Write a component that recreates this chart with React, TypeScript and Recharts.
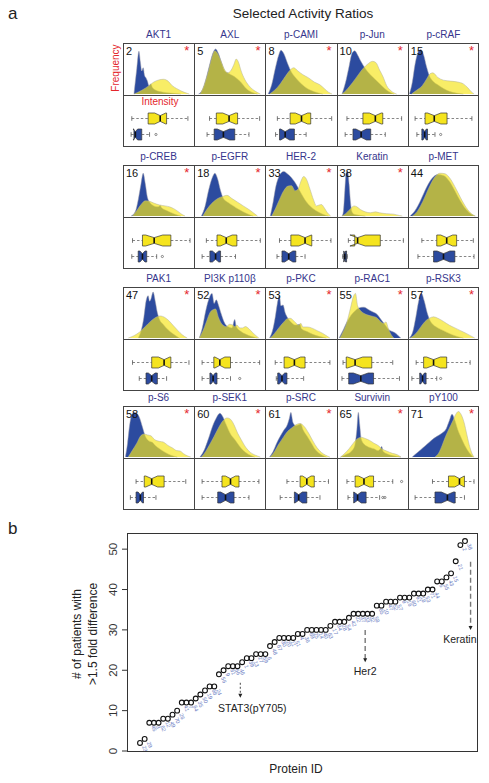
import React from 'react';
import {
  AreaChart, Area, BarChart, Bar, ScatterChart, Scatter,
  XAxis, YAxis, ReferenceLine, ReferenceDot,
} from 'recharts';

const FONT = '"Liberation Sans", Arial, sans-serif';

// ---- panel a ----
const proteins = [
  'AKT1', 'AXL', 'p-CAMI', 'p-Jun', 'p-cRAF',
  'p-CREB', 'p-EGFR', 'HER-2', 'Keratin', 'p-MET',
  'PAK1', 'PI3K p110β', 'p-PKC', 'p-RAC1', 'p-RSK3',
  'p-S6', 'p-SEK1', 'p-SRC', 'Survivin', 'pY100',
];
const proteinIds = [2, 5, 8, 10, 15, 16, 18, 33, 38, 44, 47, 52, 53, 55, 57, 58, 60, 61, 65, 71];
const significant = [1, 1, 1, 1, 1, 1, 1, 1, 1, 0, 1, 1, 1, 1, 1, 1, 1, 1, 1, 1];

// density curves as [intensity, relative frequency]
const blueDensity = [
  [[14,0],[18,55],[21,93],[23,70],[25,50],[27,57],[29,40],[31,35],[33,28],[35,18],[38,22],[40,14],[45,8],[55,4],[65,2],[80,0]],
  [[5,0],[10,8],[15,30],[20,60],[25,88],[29,98],[33,88],[37,70],[42,50],[47,45],[53,40],[58,35],[65,25],[72,12],[80,4],[88,0]],
  [[3,0],[8,20],[13,55],[18,85],[21,95],[25,88],[30,68],[35,50],[42,35],[50,22],[58,12],[68,5],[80,0]],
  [[7,0],[12,25],[17,60],[21,88],[25,94],[29,85],[34,70],[40,55],[47,42],[55,30],[63,18],[72,6],[80,0]],
  [[2,0],[6,25],[10,65],[14,90],[18,97],[22,85],[26,60],[30,40],[35,28],[42,20],[50,12],[58,6],[68,2],[78,0]],
  [[10,0],[16,10],[20,35],[24,70],[27,93],[30,70],[33,40],[37,28],[42,22],[48,20],[51,23],[53,18],[60,12],[70,5],[80,0]],
  [[9,0],[14,20],[19,55],[24,82],[28,93],[32,80],[36,55],[40,38],[46,30],[54,22],[62,14],[72,6],[82,0]],
  [[6,0],[10,30],[14,65],[19,88],[25,97],[30,92],[35,85],[40,75],[45,62],[50,48],[55,35],[62,22],[70,12],[80,4],[88,0]],
  [[7,0],[9,10],[11,55],[13,95],[15,97],[17,70],[19,30],[21,10],[24,4],[30,2],[40,0]],
  [[3,0],[10,12],[18,35],[26,62],[34,82],[42,90],[50,88],[58,76],[66,55],[74,32],[82,14],[90,3],[94,0]],
  [[20,0],[24,15],[28,45],[31,80],[34,92],[36,80],[38,85],[41,100],[44,80],[47,55],[50,40],[55,30],[62,18],[70,8],[78,0]],
  [[6,0],[10,20],[15,58],[19,82],[24,97],[27,75],[30,83],[33,72],[37,52],[41,35],[46,25],[52,22],[56,40],[58,25],[64,15],[72,8],[80,3],[88,0]],
  [[5,0],[9,15],[13,45],[16,75],[19,93],[21,70],[24,72],[27,55],[30,45],[35,35],[42,28],[48,30],[50,20],[58,14],[66,8],[76,3],[85,0]],
  [[3,0],[8,15],[14,35],[20,50],[26,60],[32,66],[38,67],[44,62],[50,57],[56,52],[62,40],[68,28],[73,18],[78,14],[83,10],[87,4],[90,0]],
  [[2,0],[7,15],[11,45],[15,80],[19,97],[23,80],[27,55],[31,38],[36,28],[42,22],[50,16],[58,10],[68,4],[78,0]],
  [[2,0],[5,30],[8,70],[11,92],[14,97],[18,95],[22,85],[26,65],[30,45],[35,35],[40,32],[44,25],[50,18],[58,10],[66,4],[75,0]],
  [[7,0],[13,15],[19,40],[25,68],[30,85],[35,95],[39,88],[44,70],[50,50],[56,38],[62,25],[68,14],[75,6],[84,0]],
  [[5,0],[10,12],[15,30],[20,45],[25,58],[30,70],[33,85],[35,97],[38,75],[42,68],[46,70],[49,72],[52,60],[58,45],[64,30],[70,15],[78,5],[85,0]],
  [[5,0],[12,5],[20,12],[25,25],[28,60],[30,97],[32,70],[34,40],[38,28],[44,22],[52,18],[58,14],[61,18],[63,23],[65,12],[72,6],[82,2],[90,0]],
  [[6,0],[12,8],[18,16],[24,24],[30,32],[36,40],[42,46],[48,52],[54,62],[58,78],[62,93],[66,80],[70,60],[74,45],[80,25],[86,10],[92,0]],
];

const yellowDensity = [
  [[14,0],[25,8],[35,18],[42,26],[50,31],[56,32],[62,28],[68,18],[74,12],[80,7],[86,3],[92,0]],
  [[7,0],[12,15],[18,45],[23,75],[28,94],[32,88],[37,70],[42,52],[46,46],[51,52],[55,65],[58,76],[61,70],[65,50],[70,32],[76,18],[83,8],[92,0]],
  [[5,0],[12,8],[20,22],[28,40],[34,52],[39,57],[45,50],[52,42],[60,35],[68,26],[76,20],[82,12],[88,4],[93,0]],
  [[7,0],[14,10],[22,25],[30,42],[37,56],[44,66],[50,71],[55,68],[60,52],[65,37],[70,18],[76,7],[84,0]],
  [[5,0],[12,8],[20,18],[26,32],[31,44],[35,46],[42,36],[50,30],[60,28],[70,26],[78,22],[84,14],[89,5],[93,0]],
  [[12,0],[18,12],[24,25],[30,33],[36,32],[42,28],[50,24],[58,22],[64,20],[70,16],[76,10],[82,3],[86,0]],
  [[11,0],[17,15],[24,28],[32,38],[40,43],[45,45],[52,38],[60,30],[68,22],[76,14],[83,6],[88,0]],
  [[8,0],[13,15],[19,36],[25,55],[31,65],[36,66],[41,55],[45,58],[49,75],[53,86],[57,80],[62,58],[67,35],[71,22],[75,24],[78,25],[82,18],[86,8],[91,0]],
  [[7,0],[12,5],[18,14],[24,22],[28,20],[33,14],[40,9],[47,7],[54,9],[60,7],[70,5],[80,4],[88,1],[92,0]],
  [[6,0],[13,10],[21,32],[29,60],[37,83],[45,93],[52,92],[60,80],[68,58],[76,34],[84,14],[91,3],[95,0]],
  [[6,0],[14,5],[22,13],[30,25],[38,37],[45,45],[51,48],[57,45],[63,38],[70,26],[76,16],[82,7],[89,0]],
  [[6,0],[11,15],[16,35],[21,55],[26,62],[29,63],[33,45],[38,30],[44,25],[49,30],[53,28],[56,25],[59,28],[63,22],[67,22],[71,25],[76,20],[81,12],[86,5],[90,0]],
  [[6,0],[12,10],[18,22],[24,33],[30,42],[34,43],[40,36],[46,28],[49,32],[52,24],[58,24],[64,22],[72,16],[80,10],[87,3],[90,0]],
  [[4,0],[9,15],[14,35],[19,65],[23,90],[26,97],[29,70],[33,60],[40,52],[48,48],[56,44],[62,35],[66,32],[69,35],[72,22],[76,8],[80,0]],
  [[3,0],[10,8],[17,22],[24,36],[30,43],[36,46],[42,43],[50,36],[58,28],[66,22],[74,16],[82,10],[88,5],[94,0]],
  [[6,0],[12,15],[18,30],[23,45],[28,50],[33,48],[38,46],[43,38],[50,34],[56,32],[62,25],[68,20],[74,14],[79,13],[84,7],[90,2],[94,0]],
  [[9,0],[15,12],[21,28],[27,45],[33,63],[39,78],[45,85],[50,82],[55,70],[60,52],[65,38],[72,20],[78,10],[85,4],[92,0]],
  [[6,0],[12,12],[18,28],[24,42],[30,55],[36,63],[42,70],[48,73],[54,66],[60,52],[66,35],[72,20],[78,10],[84,4],[90,0]],
  [[5,0],[11,8],[17,18],[23,30],[29,40],[34,43],[40,40],[46,36],[52,30],[58,25],[63,18],[70,13],[78,8],[85,5],[90,0]],
  [[38,0],[43,8],[48,25],[53,45],[58,62],[63,78],[67,92],[71,99],[75,92],[79,75],[83,48],[87,22],[90,8],[93,0]],
];

// boxplots: [min, q1, median, q3, max, ...outliers]
const yellowBox = [
  [11, 34, 51, 60, 90], [20.5, 30, 48, 60, 91], [16, 34, 50, 63, 92.5], [14, 36.5, 54, 64.5, 91], [10, 24, 37, 55, 90],
  [12, 26, 42.5, 66, 93], [16, 31, 44, 59, 92], [19, 35, 55, 64.5, 91.5], [16, 25, 29, 61, 93.5], [19.5, 40.5, 54.5, 68.5, 92],
  [12, 39, 56.5, 66, 91.5], [10, 26.5, 35, 50, 91], [13, 25.5, 40, 55, 90], [8.5, 13, 25.5, 49, 78.5], [11.5, 22, 36, 54.5, 87.5],
  [17, 28.5, 39, 56.5, 87], [10, 38, 50, 62, 90], [29.5, 48, 57.5, 68, 88], [14, 25.5, 38, 51.5, 78.5, 91], [34.5, 57, 72.5, 79.5, 93],
];
const blueBox = [
  [10, 14, 16, 25, 36, 45], [17, 27, 40, 56, 76], [13.5, 19, 27, 40, 56.5], [11.5, 22.5, 34, 47.5, 68], [12.5, 19.5, 23.5, 27.5, 38, 46],
  [11, 20, 26, 32, 46, 54], [10, 21, 29, 36, 57], [15.5, 22.5, 32, 42, 55], [8, 9.5, 11, 13.5, 14.5], [14, 36, 50, 66, 93],
  [21.5, 31, 39, 47, 60], [10, 21, 25.5, 31, 50, 63], [14.5, 16.5, 22.5, 29.5, 53], [7, 16.5, 33.5, 51.5, 88], [5.5, 16.5, 20.5, 25.5, 40.5, 46],
  [9, 17, 23, 27.5, 45], [10, 32, 43, 55, 76], [20, 40, 46, 57.5, 76], [15.5, 23.5, 29, 41, 60, 64.5, 67.5], [10, 38, 55.5, 66.5, 79.5],
];

// ---- panel b ----
const patientCounts = [
  2, 3, 7, 7, 7, 8, 8, 9, 10, 12, 12, 12, 13, 14, 15, 16, 16, 19, 20, 21, 21, 21, 22, 23, 23, 24, 24, 24,
  26, 27, 28, 28, 28, 28, 29, 29, 30, 30, 30, 30, 30, 31, 32, 32, 32, 33, 34, 34, 34, 34, 34,
  36, 36, 37, 37, 37, 38, 38, 38, 39, 39, 39, 40, 40, 42, 42, 43, 44, 47, 51, 52,
];
const countIds = [
  23, 29, 45, 3, 62, 12, 49, 70, 26, 41, 7, 64, 35, 50, 19, 68, 24, 56, 9, 31, 66, 46, 1, 39, 13, 27, 59, 6,
  48, 67, 30, 20, 11, 51, 4, 36, 69, 25, 14, 40, 63, 17, 34, 28, 54, 42, 22, 37, 33, 32, 58,
  65, 10, 47, 52, 57, 8, 16, 60, 61, 18, 53, 71, 44, 5, 55, 43, 15, 21, 2, 38,
];
const yTicks = [0, 10, 20, 30, 40, 50];

const COL_L = 123;
const COL_W = 71.2;
const ROW_TOPS = [43, 165, 287, 406];
const CELL_H = 52;
const BLUE = '#2c4b9f';
const YELLOW = '#f5e41e';

const mergeCurves = (blue: number[][], yellow: number[][]) => {
  const xs = Array.from(new Set([...blue.map((p) => p[0]), ...yellow.map((p) => p[0])])).sort((a, b) => a - b);
  const bm = new Map(blue.map((p) => [p[0], p[1]]));
  const ym = new Map(yellow.map((p) => [p[0], p[1]]));
  return xs.map((x) => ({ x, blue: bm.has(x) ? bm.get(x) : null, yellow: ym.has(x) ? ym.get(x) : null }));
};

const BoxShape = (props: any) => {
  const { x, y, width, height, payload } = props;
  const s: number[] = payload.stats;
  const px = (v: number) => x + ((v - s[0]) / (s[4] - s[0])) * width;
  const top = y;
  const bot = y + height;
  const cy = y + height / 2;
  const n = (s[3] - s[1]) * 0.3;
  const d = height * 0.24;
  const q1 = px(s[1]);
  const q3 = px(s[3]);
  const med = px(s[2]);
  const nl = px(s[2] - n);
  const nr = px(s[2] + n);
  const pts = [[q1, top], [nl, top], [med, top + d], [nr, top], [q3, top], [q3, bot], [nr, bot], [med, bot - d], [nl, bot], [q1, bot]]
    .map((p) => p.join(',')).join(' ');
  const lo = px(s[0]);
  const hi = px(s[4]);
  return (
    <g>
      <line x1={lo} x2={q1} y1={cy} y2={cy} stroke="#666" strokeWidth={0.8} strokeDasharray="2.5 2" />
      <line x1={q3} x2={hi} y1={cy} y2={cy} stroke="#666" strokeWidth={0.8} strokeDasharray="2.5 2" />
      <line x1={lo} x2={lo} y1={cy - 2.3} y2={cy + 2.3} stroke="#555" strokeWidth={0.8} />
      <line x1={hi} x2={hi} y1={cy - 2.3} y2={cy + 2.3} stroke="#555" strokeWidth={0.8} />
      <polygon points={pts} fill={payload.fill} stroke="#333" strokeWidth={0.7} />
      <line x1={med} x2={med} y1={top + d} y2={bot - d} stroke="#111" strokeWidth={1.6} />
      {s.slice(5).map((o, k) => (
        <circle key={k} cx={px(o)} cy={cy} r={1.1} fill="none" stroke="#444" strokeWidth={0.6} />
      ))}
    </g>
  );
};

const Cell = ({ i }: { i: number }) => {
  const r = Math.floor(i / 5);
  const c = i % 5;
  const left = COL_L + c * COL_W;
  const top = ROW_TOPS[r];
  const dens = mergeCurves(blueDensity[i], yellowDensity[i]);
  const boxes = [
    { name: 'yellow', range: [yellowBox[i][0], yellowBox[i][4]], stats: yellowBox[i], fill: YELLOW },
    { name: 'blue', range: [blueBox[i][0], blueBox[i][4]], stats: blueBox[i], fill: BLUE },
  ];
  return (
    <>
      <div style={{ position: 'absolute', left, top: top - 14, width: COL_W, textAlign: 'center', fontSize: 10, lineHeight: '12px', color: '#35358c' }}>
        {proteins[i]}
      </div>
      <div style={{ position: 'absolute', left: left + 0.5, top }}>
        <AreaChart width={71} height={CELL_H} data={dens} margin={{ top: 5, right: 0, bottom: 1, left: 0 }}>
          <XAxis dataKey="x" type="number" domain={[0, 100]} hide />
          <YAxis type="number" domain={[0, 100]} hide />
          <Area type="monotone" dataKey="blue" connectNulls fill={BLUE} fillOpacity={1} stroke="#9a9aa8" strokeWidth={0.5} isAnimationActive={false} dot={false} activeDot={false} />
          <Area type="monotone" dataKey="yellow" connectNulls fill={YELLOW} fillOpacity={0.68} stroke="#b0b0a0" strokeWidth={0.5} isAnimationActive={false} dot={false} activeDot={false} />
        </AreaChart>
      </div>
      <div style={{ position: 'absolute', left: left + 0.5, top: top + CELL_H }}>
        <BarChart width={71} height={CELL_H} data={boxes} layout="vertical" margin={{ top: 15, right: 0, bottom: 5, left: 0 }}>
          <XAxis type="number" domain={[0, 100]} hide />
          <YAxis type="category" dataKey="name" hide />
          <Bar dataKey="range" barSize={11} shape={BoxShape} isAnimationActive={false} />
        </BarChart>
      </div>
      <div style={{ position: 'absolute', left: left + 3, top: top + 2, fontSize: 11, lineHeight: '12px', color: '#111' }}>
        {proteinIds[i]}
      </div>
      {significant[i] ? (
        <div style={{ position: 'absolute', left: left + COL_W - 10, top: top + 1, fontSize: 13, lineHeight: '13px', color: '#e4262c' }}>*</div>
      ) : null}
    </>
  );
};

const RowFrame = ({ top }: { top: number }) => (
  <>
    <div style={{ position: 'absolute', left: COL_L, top, width: COL_W * 5, height: CELL_H * 2, border: '1px solid #444', boxSizing: 'border-box' }} />
    <div style={{ position: 'absolute', left: COL_L, top: top + CELL_H, width: COL_W * 5, height: 1, background: '#444' }} />
    {[1, 2, 3, 4].map((c) => (
      <div key={c} style={{ position: 'absolute', left: COL_L + c * COL_W, top, width: 1, height: CELL_H * 2, background: '#444' }} />
    ))}
  </>
);

const Point = (props: any) => {
  const { cx, cy, payload } = props;
  return (
    <g>
      <circle cx={cx} cy={cy} r={2.4} fill="none" stroke="#111" strokeWidth={1.1} />
      <text transform={`translate(${cx + 2},${cy + 3.5}) rotate(70)`} fontSize={5.5} fill="#6678c0">{payload.id}</text>
    </g>
  );
};

const Arrowhead = (props: any) => {
  const { cx, cy } = props;
  return <polygon points={`${cx - 2},${cy - 4} ${cx + 2},${cy - 4} ${cx},${cy}`} fill="#222" />;
};

const makeLabel = (text: string) => (props: any) => (
  <text x={props.cx} y={props.cy} textAnchor="middle" dominantBaseline="central" fontSize={10.5} fill="#222" fontFamily={FONT}>{text}</text>
);

const YTick = (props: any) => {
  const { x, y, payload } = props;
  return (
    <text transform={`translate(${x - 3},${y}) rotate(-90)`} textAnchor="middle" fontSize={11.5} fill="#333" fontFamily={FONT}>
      {payload.value}
    </text>
  );
};

export default function App() {
  const points = patientCounts.map((v, k) => ({ idx: k + 1, count: v, id: countIds[k] }));
  return (
    <div style={{ position: 'absolute', left: 0, top: 0, width: 489, height: 783, background: '#fff', overflow: 'hidden', fontFamily: FONT }}>
      <div style={{ position: 'absolute', left: 8, top: 4, fontSize: 17, color: '#222' }}>a</div>
      <div style={{ position: 'absolute', left: 123, top: 6, width: 360, textAlign: 'center', fontSize: 13.5, color: '#222' }}>Selected Activity Ratios</div>
      <div style={{ position: 'absolute', left: 115, top: 68, transform: 'translate(-50%,-50%) rotate(-90deg)', fontSize: 10, color: '#e4262c', whiteSpace: 'nowrap' }}>Frequency</div>

      {proteins.map((_, i) => <Cell key={i} i={i} />)}
      {ROW_TOPS.map((t) => <RowFrame key={t} top={t} />)}
      <div style={{ position: 'absolute', left: 160, top: 101, transform: 'translate(-50%,-50%)', fontSize: 10, color: '#e4262c', whiteSpace: 'nowrap' }}>Intensity</div>

      <div style={{ position: 'absolute', left: 8, top: 519, fontSize: 17, color: '#222' }}>b</div>
      <div style={{ position: 'absolute', left: 0, top: 520 }}>
        <ScatterChart width={489} height={263} margin={{ top: 13, right: 11, bottom: 32, left: 107 }}>
          <XAxis dataKey="idx" type="number" domain={[-1.8, 73.8]} hide />
          <YAxis dataKey="count" type="number" domain={[0, 54]} ticks={yTicks} width={20} axisLine={false} tickSize={5} tick={YTick} stroke="#333" interval={0} />
          <ReferenceLine segment={[{ x: 22.6, y: 16.9 }, { x: 22.6, y: 13.6 }]} stroke="#444" strokeDasharray="2 2" strokeWidth={1} />
          <ReferenceLine segment={[{ x: 49.5, y: 30 }, { x: 49.5, y: 22.6 }]} stroke="#777" strokeDasharray="5 3" strokeWidth={1.4} />
          <ReferenceLine segment={[{ x: 72.2, y: 46.9 }, { x: 72.2, y: 30.6 }]} stroke="#777" strokeDasharray="5 3" strokeWidth={1.4} />
          <ReferenceDot x={22.6} y={13.2} shape={Arrowhead} />
          <ReferenceDot x={49.5} y={22} shape={Arrowhead} />
          <ReferenceDot x={72.2} y={30} shape={Arrowhead} />
          <ReferenceDot x={25.2} y={10.7} shape={makeLabel('STAT3(pY705)')} />
          <ReferenceDot x={49.5} y={19.7} shape={makeLabel('Her2')} />
          <ReferenceDot x={69.9} y={27.8} shape={makeLabel('Keratin')} />
          <Scatter data={points} shape={Point} isAnimationActive={false} />
        </ScatterChart>
      </div>
      <div style={{ position: 'absolute', left: 127, top: 533, width: 351, height: 219, border: '1px solid #333', boxSizing: 'border-box', pointerEvents: 'none' }} />
      <div style={{ position: 'absolute', left: 77, top: 634, transform: 'translate(-50%,-50%) rotate(-90deg)', fontSize: 12, color: '#222', whiteSpace: 'nowrap' }}># of patients with</div>
      <div style={{ position: 'absolute', left: 93, top: 634, transform: 'translate(-50%,-50%) rotate(-90deg)', fontSize: 12, color: '#222', whiteSpace: 'nowrap' }}>&gt;1.5 fold difference</div>
      <div style={{ position: 'absolute', left: 296, top: 769, transform: 'translate(-50%,-50%)', fontSize: 12, color: '#222', whiteSpace: 'nowrap' }}>Protein ID</div>
    </div>
  );
}
